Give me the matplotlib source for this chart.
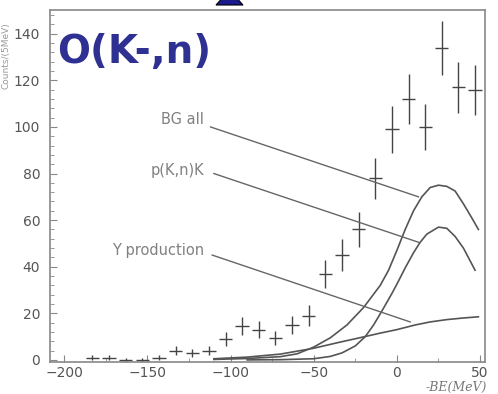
import matplotlib
matplotlib.use("Agg")
import matplotlib.pyplot as plt
from matplotlib.ticker import MultipleLocator
from matplotlib.patches import Polygon

# measured spectrum, -BE (MeV) vs counts
be = [-183, -173, -163, -153, -143, -133, -123, -113, -103, -93, -83, -73,
      -63, -53, -43, -33, -23, -13, -3, 7, 17, 27, 37, 47]
counts = [1, 1, 0, 0, 1, 4, 3, 4, 9, 14.5, 13, 9.5,
          15, 19, 37, 45, 56, 78, 99, 112, 100, 134, 117, 116]
err = [1, 1, 1, 1, 1, 2, 1.7, 2, 3, 3.8, 3.6, 3.1,
       3.9, 4.4, 6.1, 6.7, 7.5, 8.8, 10, 10.6, 10, 11.6, 10.8, 10.8]

# model curves
bg_x = [-110, -90, -70, -60, -50, -40, -30, -20, -10, -5, 0, 5, 10, 15, 20, 25, 30, 35, 40, 45, 49]
bg_y = [0.2, 0.6, 1.4, 2.6, 5.5, 9.5, 15, 22.5, 32, 38.5, 47, 56, 64, 70, 74, 75, 74.5, 72.5, 67, 61, 56]

pkn_x = [-90, -70, -50, -40, -33, -25, -19, -14, -9, -3, 0, 5, 10, 14, 18, 25, 30, 35, 40, 47]
pkn_y = [0, 0.1, 0.5, 1.5, 3, 6, 10, 15, 21, 28.5, 32.5, 39.5, 46, 50.5, 54, 57, 56.5, 53, 48, 38.5]

yp_x = [-110, -90, -70, -50, -35, -23, -10, 0, 11, 20, 30, 40, 49]
yp_y = [0.5, 1.2, 2.5, 5, 7.5, 9.4, 11.5, 13, 15, 16.3, 17.3, 18, 18.5]

# label text and pointer lines
labels = ["BG all", "p(K,n)K", "Y production"]
label_pos = [(-116, 103), (-116, 81.5), (-116, 47)]
pointers = [((-112, 100), (13, 70)), ((-110, 80), (13, 50.5)), ((-111, 45), (8, 16.3))]

fig = plt.figure(figsize=(4.98, 3.94), dpi=100)
ax = fig.add_axes([0.1004, 0.0812, 0.8736, 0.8934])

gray = "#555555"
ax.errorbar(be, counts, yerr=err, xerr=4, fmt="none", ecolor="#444444", elinewidth=1.0, capsize=0)
ax.plot(bg_x, bg_y, color=gray, lw=1.2)
ax.plot(pkn_x, pkn_y, color=gray, lw=1.2)
ax.plot(yp_x, yp_y, color=gray, lw=1.2)

for txt, (tx, ty) in zip(labels, label_pos):
    ax.text(tx, ty, txt, fontsize=10.5, color="#808080", ha="right", va="center")
for (x0, y0), (x1, y1) in pointers:
    ax.plot([x0, x1], [y0, y1], color="#666666", lw=1.0)

ax.set_xlim(-208.5, 53)
ax.set_ylim(-0.9, 150.2)
ax.xaxis.set_major_locator(MultipleLocator(50))
ax.xaxis.set_minor_locator(MultipleLocator(25))
ax.yaxis.set_major_locator(MultipleLocator(20))
ax.yaxis.set_minor_locator(MultipleLocator(4))
ax.tick_params(which="both", direction="in", colors="#888888", labelcolor=gray, labelsize=10)
ax.tick_params(which="major", length=5)
ax.tick_params(which="minor", length=3)
ax.tick_params(axis="y", pad=7)
ax.tick_params(axis="x", pad=3)
for s in ax.spines.values():
    s.set_color("#888888")
    s.set_linewidth(1.2)

fig.text(57 / 498, 1 - 63 / 394, "O(K-,n)", fontsize=28, fontweight="bold",
         color="#2e3192", ha="left", va="baseline")
fig.text(0.978, 0.0, "-BE(MeV)", fontsize=9, style="italic", family="serif",
         color="#777777", ha="right", va="bottom")
fig.text(0.004, 0.86, "Counts/(5MeV)", fontsize=6.5, rotation=90, color="#999999",
         ha="left", va="center")

# bits of the slide above the plot
fig.patches.append(Polygon([[216 / 498, 1 - 5 / 394], [243 / 498, 1 - 5 / 394], [229.5 / 498, 1 + 10 / 394]],
                           closed=True, transform=fig.transFigure,
                           facecolor="#1a1a8c", edgecolor="black", lw=0.8))

fig.savefig("out.png", dpi=100)
